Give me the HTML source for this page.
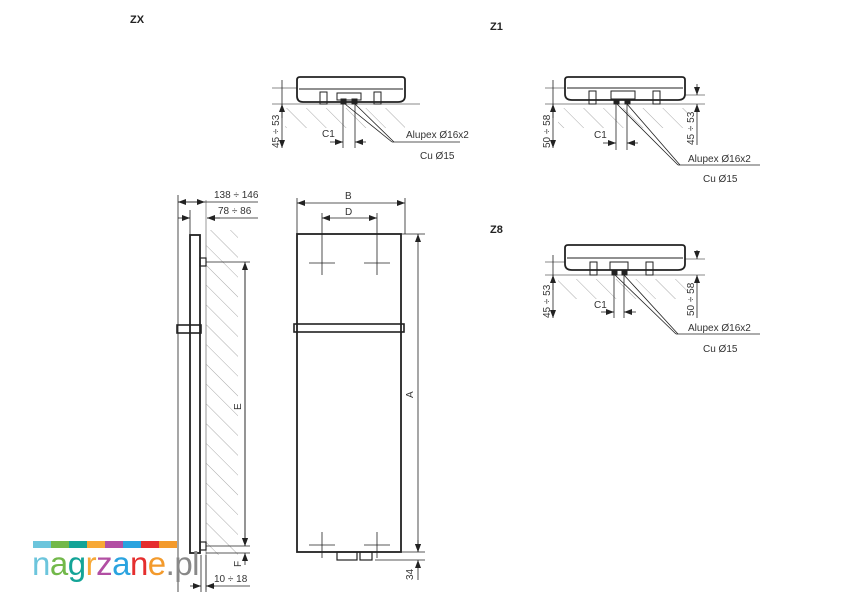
<!DOCTYPE html>
<html><head><meta charset="utf-8"><style>
html,body{margin:0;padding:0;background:#fff;}
svg{display:block;font-family:"Liberation Sans",sans-serif;}
.t{font-size:10px;fill:#333;}
</style></head><body>
<svg width="850" height="600" viewBox="0 0 850 600" xmlns="http://www.w3.org/2000/svg">
<defs>
<pattern id="h" width="14" height="14" patternUnits="userSpaceOnUse" patternTransform="rotate(-45)">
<line x1="0" y1="0" x2="0" y2="14" stroke="#aaa" stroke-width="1"/>
</pattern>
<marker id="a" markerWidth="8" markerHeight="6" refX="8" refY="3" orient="auto-start-reverse" markerUnits="userSpaceOnUse">
<path d="M0,0 L8,3 L0,6 z" fill="#222"/>
</marker>
</defs>

<text x="130" y="23" font-size="11" font-weight="bold" fill="#222">ZX</text>
<text x="490" y="30" font-size="11" font-weight="bold" fill="#222">Z1</text>
<text x="490" y="233" font-size="11" font-weight="bold" fill="#222">Z8</text>

<!-- ZX detail -->
<g stroke="#222" fill="none">
<rect x="285" y="108" width="120" height="20" fill="url(#h)" stroke="none"/>
<line x1="272" y1="104" x2="420" y2="104" stroke="#888"/>
<line x1="272" y1="88" x2="297" y2="88" stroke="#888"/>
<path d="M297,80 Q297,77 300,77 L402,77 Q405,77 405,80 L405,96 Q405,102 398,102 L303,102 Q297,102 297,96 Z" stroke-width="1.8"/>
<line x1="299" y1="89" x2="403" y2="89" stroke-width="1"/>
<rect x="320" y="92" width="7" height="12" stroke-width="1"/>
<rect x="374" y="92" width="7" height="12" stroke-width="1"/>
<rect x="337" y="93" width="24" height="7" stroke-width="1"/>
<rect x="341" y="99" width="5" height="5" fill="#222"/><rect x="352" y="99" width="5" height="5" fill="#222"/>
<line x1="282" y1="80" x2="282" y2="148" stroke-width="0.8" marker-end="url(#a)"/>
<line x1="282" y1="118" x2="282" y2="104" stroke-width="0.8" marker-end="url(#a)"/>
<line x1="343" y1="104" x2="343" y2="148" stroke-width="0.8"/>
<line x1="355" y1="104" x2="355" y2="148" stroke-width="0.8"/>
<line x1="330" y1="142" x2="343" y2="142" stroke-width="0.8" marker-end="url(#a)"/>
<line x1="366" y1="142" x2="355" y2="142" stroke-width="0.8" marker-end="url(#a)"/>
<line x1="345" y1="104" x2="392" y2="142" stroke-width="0.8"/>
<line x1="355" y1="104" x2="394" y2="142" stroke-width="0.8"/>
<line x1="392" y1="142" x2="460" y2="142" stroke-width="0.8"/>
</g>
<text class="t" transform="translate(279,148) rotate(-90)">45 ÷ 53</text>
<text class="t" x="322" y="137">C1</text>
<text class="t" x="406" y="138">Alupex Ø16x2</text>
<text class="t" x="420" y="159">Cu Ø15</text>

<!-- Z1 -->
<g stroke="#222" fill="none">
<rect x="558" y="108" width="130" height="20" fill="url(#h)" stroke="none"/>
<line x1="545" y1="104" x2="705" y2="104" stroke="#888"/>
<line x1="545" y1="88" x2="565" y2="88" stroke="#888"/>
<line x1="685" y1="95" x2="705" y2="95" stroke="#888"/>
<path d="M565,80 Q565,77 568,77 L682,77 Q685,77 685,80 L685,94 Q685,100 678,100 L572,100 Q565,100 565,94 Z" stroke-width="1.8"/>
<line x1="567" y1="88" x2="683" y2="88" stroke-width="1"/>
<rect x="589" y="91" width="7" height="13" stroke-width="1"/>
<rect x="653" y="91" width="7" height="13" stroke-width="1"/>
<rect x="611" y="91" width="24" height="8" stroke-width="1"/>
<rect x="614" y="99" width="5" height="5" fill="#222"/><rect x="625" y="99" width="5" height="5" fill="#222"/>
<line x1="553" y1="80" x2="553" y2="148" stroke-width="0.8" marker-end="url(#a)"/>
<line x1="553" y1="118" x2="553" y2="104" stroke-width="0.8" marker-end="url(#a)"/>
<line x1="697" y1="84" x2="697" y2="95" stroke-width="0.8" marker-end="url(#a)"/>
<line x1="697" y1="145" x2="697" y2="104" stroke-width="0.8" marker-end="url(#a)"/>
<line x1="616" y1="104" x2="616" y2="150" stroke-width="0.8"/>
<line x1="627" y1="104" x2="627" y2="150" stroke-width="0.8"/>
<line x1="603" y1="143" x2="616" y2="143" stroke-width="0.8" marker-end="url(#a)"/>
<line x1="638" y1="143" x2="627" y2="143" stroke-width="0.8" marker-end="url(#a)"/>
<line x1="617" y1="104" x2="678" y2="165" stroke-width="0.8"/>
<line x1="627" y1="104" x2="680" y2="165" stroke-width="0.8"/>
<line x1="678" y1="165" x2="760" y2="165" stroke-width="0.8"/>
</g>
<text class="t" transform="translate(550,148) rotate(-90)">50 ÷ 58</text>
<text class="t" transform="translate(694,145) rotate(-90)">45 ÷ 53</text>
<text class="t" x="594" y="138">C1</text>
<text class="t" x="688" y="162">Alupex Ø16x2</text>
<text class="t" x="703" y="182">Cu Ø15</text>

<!-- Z8 -->
<g stroke="#222" fill="none">
<rect x="558" y="279" width="130" height="20" fill="url(#h)" stroke="none"/>
<line x1="545" y1="275" x2="705" y2="275" stroke="#888"/>
<line x1="545" y1="262" x2="565" y2="262" stroke="#888"/>
<line x1="685" y1="259" x2="705" y2="259" stroke="#888"/>
<path d="M565,248 Q565,245 568,245 L682,245 Q685,245 685,248 L685,264 Q685,270 678,270 L572,270 Q565,270 565,264 Z" stroke-width="1.8"/>
<line x1="567" y1="258" x2="683" y2="258" stroke-width="1"/>
<rect x="590" y="262" width="7" height="13" stroke-width="1"/>
<rect x="646" y="262" width="7" height="13" stroke-width="1"/>
<rect x="610" y="262" width="18" height="8" stroke-width="1"/>
<rect x="612" y="270" width="5" height="5" fill="#222"/><rect x="622" y="270" width="5" height="5" fill="#222"/>
<line x1="553" y1="255" x2="553" y2="318" stroke-width="0.8" marker-end="url(#a)"/>
<line x1="553" y1="290" x2="553" y2="275" stroke-width="0.8" marker-end="url(#a)"/>
<line x1="697" y1="250" x2="697" y2="259" stroke-width="0.8" marker-end="url(#a)"/>
<line x1="697" y1="318" x2="697" y2="275" stroke-width="0.8" marker-end="url(#a)"/>
<line x1="614" y1="275" x2="614" y2="318" stroke-width="0.8"/>
<line x1="624" y1="275" x2="624" y2="318" stroke-width="0.8"/>
<line x1="601" y1="312" x2="614" y2="312" stroke-width="0.8" marker-end="url(#a)"/>
<line x1="636" y1="312" x2="624" y2="312" stroke-width="0.8" marker-end="url(#a)"/>
<line x1="615" y1="275" x2="676" y2="334" stroke-width="0.8"/>
<line x1="624" y1="275" x2="678" y2="334" stroke-width="0.8"/>
<line x1="676" y1="334" x2="760" y2="334" stroke-width="0.8"/>
</g>
<text class="t" transform="translate(550,318) rotate(-90)">45 ÷ 53</text>
<text class="t" transform="translate(694,316) rotate(-90)">50 ÷ 58</text>
<text class="t" x="594" y="308">C1</text>
<text class="t" x="688" y="331">Alupex Ø16x2</text>
<text class="t" x="703" y="352">Cu Ø15</text>

<!-- Side view -->
<g stroke="#222" fill="none">
<rect x="206" y="230" width="32" height="325" fill="url(#h)" stroke="none"/>
<line x1="206" y1="200" x2="206" y2="590" stroke="#999"/>
<line x1="178" y1="195" x2="178" y2="592" stroke-width="0.8"/>
<line x1="190" y1="210" x2="190" y2="235" stroke-width="0.8"/>
<line x1="178" y1="202" x2="258" y2="202" stroke-width="0.8"/>
<line x1="192" y1="202" x2="178" y2="202" stroke-width="0.8" marker-end="url(#a)"/>
<line x1="192" y1="202" x2="205" y2="202" stroke-width="0.8" marker-end="url(#a)"/>
<line x1="178" y1="218" x2="190" y2="218" stroke-width="0.8" marker-end="url(#a)"/>
<line x1="220" y1="218" x2="207" y2="218" stroke-width="0.8" marker-end="url(#a)"/>
<line x1="207" y1="218" x2="258" y2="218" stroke-width="0.8"/>
<rect x="190" y="235" width="10" height="318" stroke-width="1.8"/>
<rect x="200" y="258" width="6" height="8" stroke-width="1.2"/>
<rect x="177" y="325" width="24" height="8" stroke-width="1.6"/>
<rect x="200" y="542" width="6" height="8" stroke-width="1.2"/>
<line x1="206" y1="262" x2="250" y2="262" stroke-width="0.8"/>
<line x1="206" y1="546" x2="250" y2="546" stroke-width="0.8"/>
<line x1="206" y1="553" x2="250" y2="553" stroke-width="0.8"/>
<line x1="245" y1="546" x2="245" y2="262" stroke-width="0.8" marker-end="url(#a)"/>
<line x1="245" y1="262" x2="245" y2="546" stroke-width="0.8" marker-end="url(#a)"/>
<line x1="245" y1="533" x2="245" y2="546" stroke-width="0.8" marker-end="url(#a)"/>
<line x1="245" y1="565" x2="245" y2="553" stroke-width="0.8" marker-end="url(#a)"/>
<line x1="201" y1="555" x2="201" y2="592" stroke-width="0.8"/>
<line x1="206" y1="555" x2="206" y2="592" stroke-width="0.8"/>
<line x1="190" y1="586" x2="201" y2="586" stroke-width="0.8" marker-end="url(#a)"/>
<line x1="215" y1="586" x2="206" y2="586" stroke-width="0.8" marker-end="url(#a)"/>
<line x1="206" y1="586" x2="250" y2="586" stroke-width="0.8"/>
</g>
<text class="t" x="214" y="198">138 ÷ 146</text>
<text class="t" x="218" y="214">78 ÷ 86</text>
<text class="t" transform="translate(241,410) rotate(-90)">E</text>
<text class="t" transform="translate(241,567) rotate(-90)">F</text>
<text class="t" x="214" y="582">10 ÷ 18</text>

<!-- Front view -->
<g stroke="#222" fill="none">
<line x1="297" y1="198" x2="297" y2="234" stroke-width="0.8"/>
<line x1="405" y1="198" x2="405" y2="234" stroke-width="0.8"/>
<line x1="322" y1="213" x2="322" y2="275" stroke-width="0.8"/>
<line x1="377" y1="213" x2="377" y2="275" stroke-width="0.8"/>
<line x1="297" y1="203" x2="405" y2="203" stroke-width="0.8" marker-start="url(#a)" marker-end="url(#a)"/>
<line x1="322" y1="218" x2="377" y2="218" stroke-width="0.8" marker-start="url(#a)" marker-end="url(#a)"/>
<line x1="309" y1="263" x2="335" y2="263" stroke-width="0.8"/>
<line x1="364" y1="263" x2="390" y2="263" stroke-width="0.8"/>
<line x1="309" y1="545" x2="335" y2="545" stroke-width="0.8"/>
<line x1="364" y1="545" x2="390" y2="545" stroke-width="0.8"/>
<line x1="322" y1="532" x2="322" y2="558" stroke-width="0.8"/>
<line x1="377" y1="532" x2="377" y2="558" stroke-width="0.8"/>
<rect x="297" y="234" width="104" height="318" stroke-width="1.8"/>
<rect x="294" y="324" width="110" height="8" stroke-width="1.6"/>
<rect x="337" y="552" width="20" height="8" stroke-width="1.2"/>
<rect x="360" y="552" width="12" height="8" stroke-width="1.2"/>
<line x1="401" y1="234" x2="425" y2="234" stroke-width="0.8"/>
<line x1="401" y1="552" x2="425" y2="552" stroke-width="0.8"/>
<line x1="375" y1="560" x2="425" y2="560" stroke-width="0.8"/>
<line x1="418" y1="234" x2="418" y2="552" stroke-width="0.8" marker-start="url(#a)" marker-end="url(#a)"/>
<line x1="418" y1="540" x2="418" y2="552" stroke-width="0.8" marker-end="url(#a)"/>
<line x1="418" y1="580" x2="418" y2="560" stroke-width="0.8" marker-end="url(#a)"/>
</g>
<text class="t" x="345" y="199">B</text>
<text class="t" x="345" y="215">D</text>
<text class="t" transform="translate(413,398) rotate(-90)">A</text>
<text class="t" transform="translate(413,580) rotate(-90)">34</text>

<!-- Logo -->
<g>
<rect x="33" y="541" width="18" height="7" fill="#6cc5dc"/>
<rect x="51" y="541" width="18" height="7" fill="#72b84a"/>
<rect x="69" y="541" width="18" height="7" fill="#14a497"/>
<rect x="87" y="541" width="18" height="7" fill="#f7a836"/>
<rect x="105" y="541" width="18" height="7" fill="#b24fa3"/>
<rect x="123" y="541" width="18" height="7" fill="#2aa3df"/>
<rect x="141" y="541" width="18" height="7" fill="#e52e2e"/>
<rect x="159" y="541" width="18" height="7" fill="#f39a2c"/>
<text x="32" y="575" font-size="33" font-family="Liberation Sans,sans-serif" letter-spacing="-0.5"><tspan fill="#6cc5dc">n</tspan><tspan fill="#72b84a">a</tspan><tspan fill="#14a497">g</tspan><tspan fill="#f7a836">r</tspan><tspan fill="#b24fa3">z</tspan><tspan fill="#2aa3df">a</tspan><tspan fill="#e52e2e">n</tspan><tspan fill="#f39a2c">e</tspan><tspan fill="#888">.pl</tspan></text>
</g>
</svg>
</body></html>
